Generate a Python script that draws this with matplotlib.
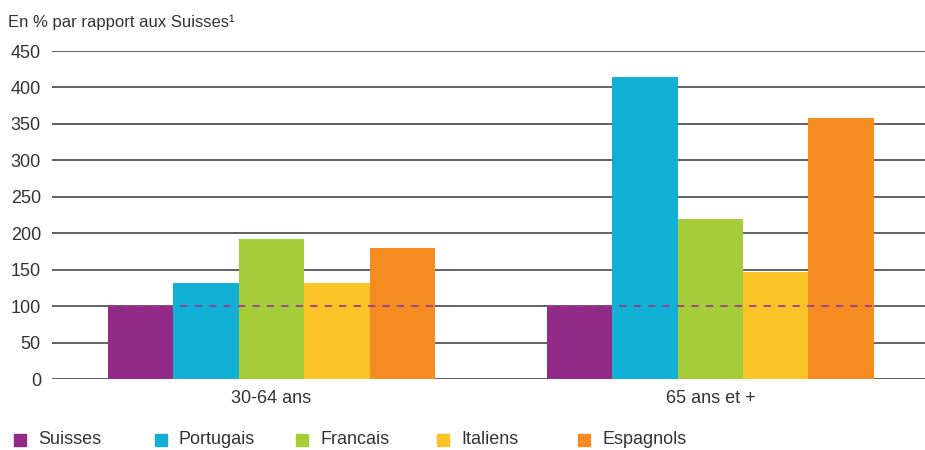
import numpy as np
import matplotlib.pyplot as plt
from matplotlib.patches import Rectangle

# Données
groupes = ['30-64 ans', '65 ans et +']
nationalites = ['Suisses', 'Portugais', 'Francais', 'Italiens', 'Espagnols']
suisses = [100, 100]
portugais = [132, 415]
francais = [192, 219]
italiens = [132, 147]
espagnols = [180, 358]
couleurs = ['#922a88', '#10b1d5', '#a5cd39', '#fcc327', '#f48c22']
yticks = [0, 50, 100, 150, 200, 250, 300, 350, 400, 450]

plt.rcParams['font.family'] = ['Liberation Sans Narrow', 'Liberation Sans', 'DejaVu Sans']
texte = '#333333'

W, H = 925, 450
fig = plt.figure(figsize=(W / 100, H / 100), dpi=100)
ax = fig.add_axes([52 / W, 1 - 379 / H, 1 - 52 / W, (379 - 51) / H])

series = [suisses, portugais, francais, italiens, espagnols]
centres = np.array([0.0, 1.0])
largeur = 0.149
for i, (vals, c) in enumerate(zip(series, couleurs)):
    ax.bar(centres + (i - 2) * largeur, vals, width=largeur, color=c, zorder=3)

# ligne de référence (Suisses = 100)
for c0 in centres:
    ax.plot([c0 - 2.5 * largeur, c0 + 2.5 * largeur], [100, 100], ls=(0, (4, 4)),
            color='#9b3a96', lw=1.3, zorder=4)

ax.set_xlim(-0.5, 1.489)
ax.set_ylim(0, 450)
ax.set_yticks(yticks)
ax.yaxis.grid(True, color='#555555', lw=1.3, zorder=0)
ax.set_xticks(centres)
ax.set_xticklabels(groupes)
ax.tick_params(axis='both', length=0, labelsize=13, colors=texte)
ax.tick_params(axis='x', pad=8)
ax.tick_params(axis='y', pad=8)
for s in ax.spines.values():
    s.set_visible(False)

fig.text(8 / W, 1 - 22 / H, 'En % par rapport aux Suisses\u00b9', fontsize=12,
         color=texte, va='center', ha='left')

# légende à colonnes fixes
y_leg = 440
for i, (n, c) in enumerate(zip(nationalites, couleurs)):
    x0 = 14 + i * 141
    fig.patches.append(Rectangle((x0 / W, 1 - (y_leg + 6) / H), 12 / W, 12 / H,
                                 transform=fig.transFigure, color=c))
    fig.text((x0 + 24) / W, 1 - y_leg / H, n, fontsize=13, color=texte,
             va='center', ha='left')

fig.savefig('out.png', dpi=100)
